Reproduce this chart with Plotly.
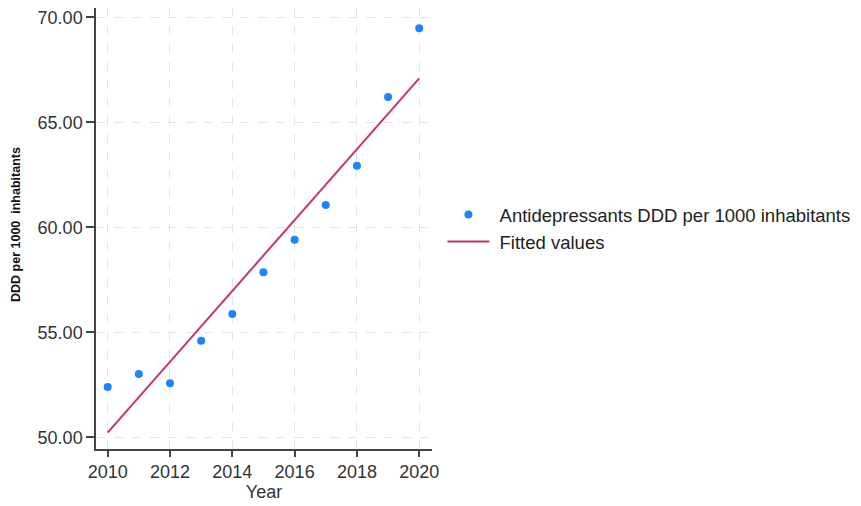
import plotly.graph_objects as go

years = [2010, 2011, 2012, 2013, 2014, 2015, 2016, 2017, 2018, 2019, 2020]
ddd = [52.40, 53.02, 52.58, 54.60, 55.88, 57.87, 59.42, 61.07, 62.94, 66.21, 69.48]
fit_years = [2010, 2020]
fit_values = [50.23, 67.10]
y_ticks = [50, 55, 60, 65, 70]
y_tick_labels = ["50.00", "55.00", "60.00", "65.00", "70.00"]
x_ticks = [2010, 2012, 2014, 2016, 2018, 2020]

fig = go.Figure()
fig.add_trace(go.Scatter(
    x=years, y=ddd, mode="markers",
    name="\u00a0Antidepressants DDD per 1000 inhabitants",
    marker=dict(color="#1a85ff", size=8, line=dict(width=0)),
))
fig.add_trace(go.Scatter(
    x=fit_years, y=fit_values, mode="lines",
    name="\u00a0Fitted values",
    line=dict(color="#c8336b", width=2),
))

axis_font = dict(family="Liberation Sans, Arial, sans-serif", size=18, color="#333333")

# the page body has an 8px margin, so the figure is sized and placed to fit in the window
fig.update_layout(
    width=853, height=498,
    margin=dict(l=88, r=429, t=0, b=57, autoexpand=False),
    paper_bgcolor="white", plot_bgcolor="white",
    showlegend=True,
    legend=dict(
        x=1.031, xanchor="left", y=0.574, yanchor="top",
        itemwidth=42,
        font=dict(family="Liberation Sans, Arial, sans-serif", size=18.5, color="#222222"),
        bgcolor="rgba(0,0,0,0)", tracegroupgap=0,
    ),
    xaxis=dict(
        range=[2009.625, 2020.41],
        tickvals=x_ticks, ticktext=[str(v) for v in x_ticks],
        tickfont=axis_font, automargin=False,
        showgrid=True, gridcolor="#e4e4e4", griddash="dash", gridwidth=1,
        showline=True, linecolor="#444444", linewidth=1.5,
        ticks="outside", ticklen=6, tickcolor="#444444", tickwidth=1.5,
        zeroline=False,
        title=dict(text="Year", font=axis_font, standoff=4),
    ),
    yaxis=dict(
        range=[49.45, 70.45],
        tickvals=y_ticks, ticktext=y_tick_labels,
        tickfont=axis_font, automargin=False,
        ticklabeloverflow="allow",
        showgrid=True, gridcolor="#e4e4e4", griddash="dash", gridwidth=1,
        showline=True, linecolor="#444444", linewidth=1.5,
        ticks="outside", ticklen=8, tickcolor="#444444", tickwidth=1.5,
        zeroline=False,
    ),
    annotations=[dict(
        text="<b>DDD per 1000\u00a0\u00a0inhabitants</b>",
        xref="paper", yref="paper",
        x=-0.238, y=0.508, xanchor="center", yanchor="middle",
        textangle=-90, showarrow=False,
        font=dict(family="Liberation Sans, Arial, sans-serif", size=12.5, color="#111111"),
    )],
)

fig.write_html("out.html")
